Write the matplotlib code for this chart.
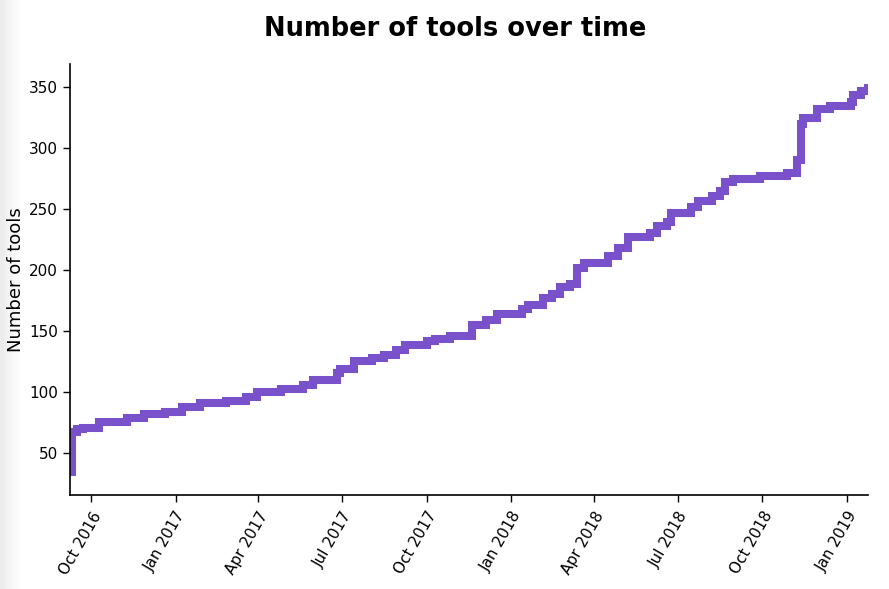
import pandas as pd
import matplotlib.pyplot as plt
import matplotlib.dates as mdates
from matplotlib.patches import Rectangle

# --- data (date a count was reached, count) ---
dates = [
    '2016-09-08', '2016-09-10', '2016-09-16', '2016-09-22', '2016-10-10',
    '2016-11-09', '2016-11-28', '2016-12-20', '2017-01-08', '2017-01-27',
    '2017-02-25', '2017-03-19', '2017-03-30', '2017-04-26', '2017-05-19',
    '2017-05-30', '2017-06-25', '2017-06-29', '2017-07-14', '2017-08-03',
    '2017-08-16', '2017-08-29', '2017-09-07', '2017-10-01', '2017-10-10',
    '2017-10-26', '2017-11-19', '2017-12-05', '2017-12-17', '2018-01-13',
    '2018-01-19', '2018-02-04', '2018-02-14', '2018-02-23', '2018-03-06',
    '2018-03-13', '2018-03-21', '2018-04-16', '2018-04-27', '2018-05-08',
    '2018-06-01', '2018-06-09', '2018-06-19', '2018-06-24', '2018-07-16',
    '2018-07-23', '2018-08-07', '2018-08-16', '2018-08-21', '2018-08-30',
    '2018-09-29', '2018-10-28', '2018-11-08', '2018-11-12', '2018-11-14',
    '2018-11-29', '2018-12-14', '2019-01-05', '2019-01-08', '2019-01-16',
    '2019-01-24',
]
n_tools = [
    35, 68, 70, 71, 76,
    79, 82, 84, 88, 91,
    93, 96, 100, 103, 106,
    110, 116, 119, 126, 128,
    131, 135, 139, 142, 144,
    146, 155, 159, 164, 168,
    172, 177, 181, 186, 189,
    202, 206, 212, 218, 227,
    231, 236, 240, 247, 252,
    257, 261, 265, 272, 275,
    277, 280, 290, 320, 325,
    332, 335, 338, 344, 347,
    349,
]
yticks = [50, 100, 150, 200, 250, 300, 350]
xticks = ['2016-10-01', '2017-01-01', '2017-04-01', '2017-07-01', '2017-10-01',
          '2018-01-01', '2018-04-01', '2018-07-01', '2018-10-01', '2019-01-01']

df = pd.DataFrame({'date': pd.to_datetime(dates), 'n': n_tools})

fig = plt.figure(figsize=(8.89, 5.89), dpi=100)
fig.patch.set_facecolor('white')

# faint grey shadow strip on the left edge
for i, c in enumerate(['#ececec', '#f0f0f0', '#f4f4f4', '#f7f7f7', '#fafafa', '#fdfdfd']):
    fig.add_artist(Rectangle((i * 0.004, 0), 0.004, 1, transform=fig.transFigure,
                             color=c, lw=0, zorder=-1))

ax = fig.add_axes([0.0787, 0.1596, 0.8977, 0.7317])
ax.plot(df['date'], df['n'], drawstyle='steps-post', color='#7851CB',
        lw=5.8, solid_joinstyle='miter')

ax.set_xlim(df['date'].min(), df['date'].max())
ax.set_ylim(16, 369)
ax.set_yticks(yticks)
ax.set_xticks(pd.to_datetime(xticks))
ax.xaxis.set_major_formatter(mdates.DateFormatter('%b %Y'))

for s in ['top', 'right']:
    ax.spines[s].set_visible(False)
for s in ['left', 'bottom']:
    ax.spines[s].set_linewidth(1.2)
ax.tick_params(axis='both', labelsize=11, length=5, width=1)
ax.tick_params(axis='x', pad=5)
plt.setp(ax.get_xticklabels(), rotation=60, ha='right', rotation_mode='anchor')

ax.set_ylabel('Number of tools', fontsize=13)
ax.yaxis.set_label_coords(-0.056, 0.5)
fig.text(0.512, 0.95, 'Number of tools over time', ha='center', va='center',
         fontsize=18.5, fontweight='bold')

fig.savefig('out.png', dpi=100)
